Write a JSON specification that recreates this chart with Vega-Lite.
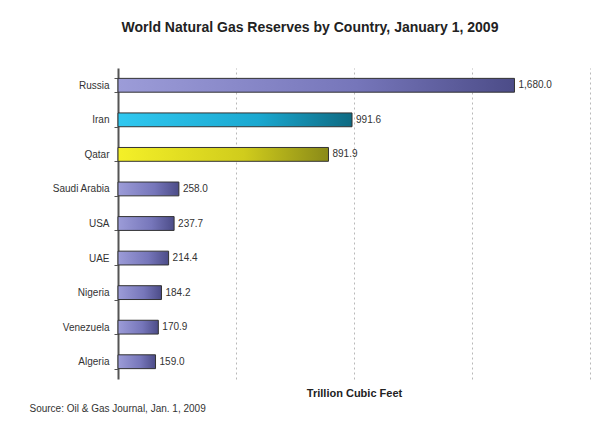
{
  "$schema": "https://vega.github.io/schema/vega-lite/v6.json",
  "autosize": {"type": "none"},
  "width": 472,
  "height": 311,
  "padding": {"left": 118, "top": 68, "right": 3, "bottom": 42},
  "background": "white",
  "title": {
    "text": "World Natural Gas Reserves by Country, January 1, 2009",
    "font": "Liberation Sans",
    "fontSize": 14,
    "fontWeight": "bold",
    "color": "#222",
    "anchor": "middle",
    "frame": "group",
    "dx": -44,
    "offset": 28
  },
  "config": {
    "view": {"stroke": null},
    "font": "Liberation Sans"
  },
  "data": {
    "values": [
      {"country": "Russia", "reserves": 1680.0, "group": "other"},
      {"country": "Iran", "reserves": 991.6, "group": "Iran"},
      {"country": "Qatar", "reserves": 891.9, "group": "Qatar"},
      {"country": "Saudi Arabia", "reserves": 258.0, "group": "other"},
      {"country": "USA", "reserves": 237.7, "group": "other"},
      {"country": "UAE", "reserves": 214.4, "group": "other"},
      {"country": "Nigeria", "reserves": 184.2, "group": "other"},
      {"country": "Venezuela", "reserves": 170.9, "group": "other"},
      {"country": "Algeria", "reserves": 159.0, "group": "other"}
    ]
  },
  "encoding": {
    "y": {
      "field": "country",
      "type": "nominal",
      "sort": ["Russia", "Iran", "Qatar", "Saudi Arabia", "USA", "UAE", "Nigeria", "Venezuela", "Algeria"],
      "scale": {"paddingInner": 0.6, "paddingOuter": 0.3},
      "axis": {
        "title": "Source: Oil & Gas Journal, Jan. 1, 2009",
        "titleAngle": 0,
        "titleAlign": "left",
        "titleBaseline": "middle",
        "titleX": -89,
        "titleY": 340,
        "titleFontSize": 10,
        "titleFontWeight": "normal",
        "titleColor": "#333",
        "labelFontSize": 10,
        "labelColor": "#333",
        "labelPadding": 5,
        "tickSize": 4,
        "tickBand": "extent",
        "tickColor": "#555",
        "domainColor": "#555",
        "domainWidth": 2
      }
    },
    "x": {
      "field": "reserves",
      "type": "quantitative",
      "scale": {"domain": [0, 2000], "nice": false},
      "axis": {
        "title": "Trillion Cubic Feet",
        "titleFontSize": 11,
        "titleFontWeight": "bold",
        "titleColor": "#222",
        "titlePadding": 8,
        "labels": false,
        "ticks": false,
        "domain": false,
        "values": [500, 1000, 1500, 2000],
        "grid": true,
        "gridDash": [2, 3],
        "gridColor": "#b8b8b8"
      }
    }
  },
  "layer": [
    {
      "transform": [{"filter": "datum.group === 'other'"}],
      "mark": {
        "type": "bar",
        "stroke": "#333",
        "strokeWidth": 1,
        "fill": {
          "gradient": "linear", "x1": 0, "y1": 0, "x2": 1, "y2": 0,
          "stops": [
            {"offset": 0, "color": "#9c9cd8"},
            {"offset": 0.6, "color": "#7676ba"},
            {"offset": 1, "color": "#4c4c88"}
          ]
        }
      }
    },
    {
      "transform": [{"filter": "datum.group === 'Iran'"}],
      "mark": {
        "type": "bar",
        "stroke": "#333",
        "strokeWidth": 1,
        "fill": {
          "gradient": "linear", "x1": 0, "y1": 0, "x2": 1, "y2": 0,
          "stops": [
            {"offset": 0, "color": "#30c8f0"},
            {"offset": 0.6, "color": "#1aa8d0"},
            {"offset": 1, "color": "#0e6a82"}
          ]
        }
      }
    },
    {
      "transform": [{"filter": "datum.group === 'Qatar'"}],
      "mark": {
        "type": "bar",
        "stroke": "#333",
        "strokeWidth": 1,
        "fill": {
          "gradient": "linear", "x1": 0, "y1": 0, "x2": 1, "y2": 0,
          "stops": [
            {"offset": 0, "color": "#f4f028"},
            {"offset": 0.6, "color": "#d0cc1c"},
            {"offset": 1, "color": "#8a8a18"}
          ]
        }
      }
    },
    {
      "mark": {"type": "text", "align": "left", "baseline": "middle", "dx": 4, "fontSize": 10, "color": "#333"},
      "encoding": {
        "text": {"field": "reserves", "type": "quantitative", "format": ",.1f"}
      }
    }
  ]
}
